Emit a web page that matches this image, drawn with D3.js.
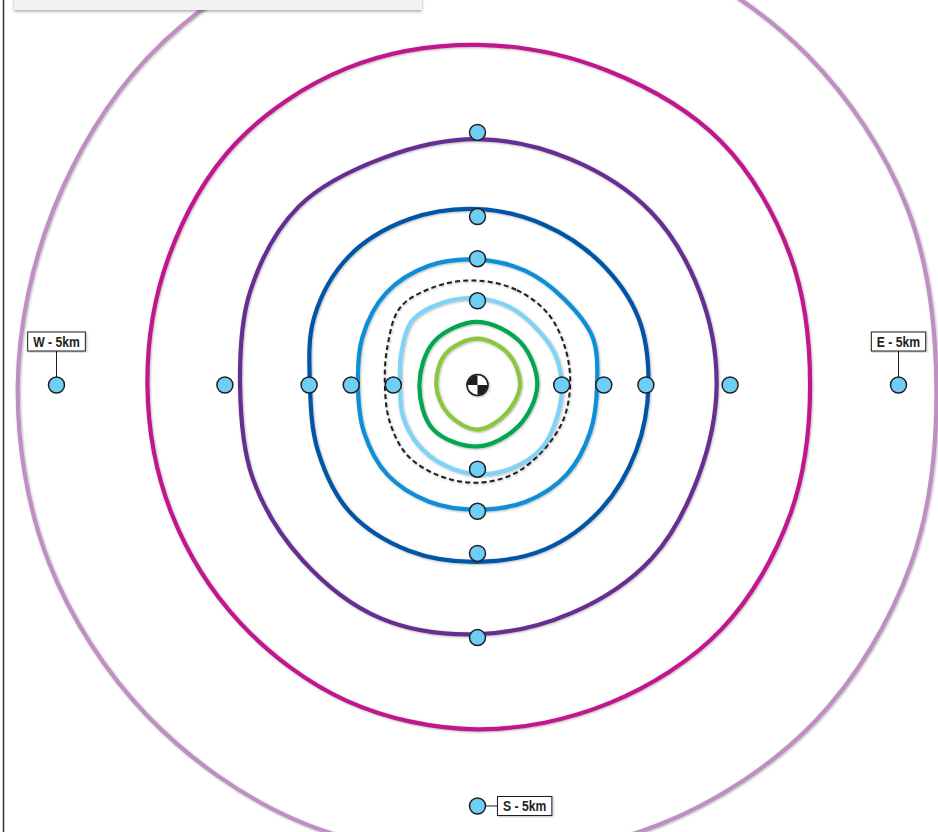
<!DOCTYPE html>
<html>
<head>
<meta charset="utf-8">
<script src="https://cdn.jsdelivr.net/npm/d3@7"></script>
<style>
  html, body { margin: 0; padding: 0; background: #ffffff; overflow: hidden; }
  svg { display: block; }
</style>
</head>
<body>
<svg id="chart" width="938" height="832"></svg>
<script>
// ---------- DATA ----------
// Ring radii in km, sampled clockwise from North at equal angular steps.
const ringNames = ["outer", "magenta", "purple", "darkBlue", "mediumBlue", "dashed", "lightBlue", "green", "lightGreen"];
const ringOuter      = [5.55, 5.55, 5.54, 5.52, 5.45, 5.57, 5.66, 5.65, 5.60, 5.60, 5.55, 5.51, 5.46, 5.45, 5.52, 5.55];
const ringMagenta    = [4.04, 4.04, 4.09, 4.02, 3.95, 4.02, 4.10, 4.09, 4.09, 4.06, 3.99, 3.94, 3.92, 3.97, 4.06, 4.07];
const ringPurple     = [2.92, 2.90, 2.91, 2.86, 2.84, 2.84, 2.92, 2.93, 2.96, 3.00, 2.94, 2.89, 2.82, 2.92, 3.00, 2.92];
const ringDarkBlue   = [2.09, 2.06, 2.06, 2.07, 2.03, 2.04, 2.08, 2.11, 2.10, 2.13, 2.14, 2.05, 1.99, 2.10, 2.16, 2.13];
const ringMediumBlue = [1.49, 1.47, 1.45, 1.48, 1.42, 1.45, 1.50, 1.50, 1.48, 1.50, 1.51, 1.46, 1.42, 1.48, 1.54, 1.53];
const ringDashed     = [1.24, 1.22, 1.19, 1.13, 1.10, 1.10, 1.10, 1.14, 1.16, 1.17, 1.18, 1.13, 1.10, 1.16, 1.30, 1.27];
const ringLightBlue  = [1.03, 1.00, 0.97, 0.99, 1.00, 1.02, 1.07, 1.07, 1.06, 1.03, 1.00, 0.96, 0.92, 0.98, 1.09, 1.06];
const ringGreen      = [0.75, 0.72, 0.71, 0.69, 0.73, 0.745, 0.69, 0.73];
const ringLightGreen = [0.55, 0.52, 0.505, 0.48, 0.53, 0.49, 0.49, 0.53];
const ringColors     = ["#bf8fc4", "#c0198e", "#662d91", "#0054a6", "#0b8ed6", "#231f20", "#80d3f6", "#00a651", "#8cc63f"];

// Marker points (km from centre) per compass direction
const directions      = ["N", "E", "S", "W"];
const markersN        = [1, 1.5, 2, 3];
const markersE        = [1, 1.5, 2, 3, 5];
const markersS        = [1, 1.5, 2, 3, 5];
const markersW        = [1, 1.5, 2, 3, 5];

// Labelled markers
const labelTexts      = ["W - 5km", "E - 5km", "S - 5km"];
const labelDirections = ["W", "E", "S"];
const labelDistances  = [5, 5, 5];

// ---------- LAYOUT ----------
const W = 938, H = 832;
const cx = 477.5, cy = 385;
const svg = d3.select("#chart");

const r = d3.scaleLinear().domain([0, 5]).range([0, 421]);
const dirAngle = d3.scaleOrdinal().domain(directions).range([0, Math.PI / 2, Math.PI, 3 * Math.PI / 2]);

const defs = svg.append("defs");
const sh = defs.append("filter").attr("id", "shadow")
  .attr("x", "-10%").attr("y", "-10%").attr("width", "120%").attr("height", "120%");
sh.append("feDropShadow").attr("dx", 0.8).attr("dy", 0.8).attr("stdDeviation", 0.9)
  .attr("flood-color", "#000").attr("flood-opacity", 0.3);
const sh2 = defs.append("filter").attr("id", "panelShadow")
  .attr("x", "-10%").attr("y", "-50%").attr("width", "120%").attr("height", "250%");
sh2.append("feDropShadow").attr("dx", 0).attr("dy", 1.5).attr("stdDeviation", 1.5)
  .attr("flood-color", "#000").attr("flood-opacity", 0.35);

// Left frame line
svg.append("line").attr("x1", 3.5).attr("x2", 3.5).attr("y1", 0).attr("y2", H)
  .attr("stroke", "#3d3d3d").attr("stroke-width", 1.6);

const g = svg.append("g").attr("transform", `translate(${cx},${cy})`);

// Rings
const rings = [ringOuter, ringMagenta, ringPurple, ringDarkBlue, ringMediumBlue, ringDashed, ringLightBlue, ringGreen, ringLightGreen]
  .map((vals, i) => ({ name: ringNames[i], values: vals, color: ringColors[i] }));

const radial = d3.lineRadial()
  .curve(d3.curveCatmullRomClosed.alpha(0.5));

g.selectAll("path.ring").data(rings).join("path")
  .attr("class", "ring")
  .attr("d", d => radial
      .angle((v, i) => i * 2 * Math.PI / d.values.length)
      .radius(v => r(v))(d.values))
  .attr("fill", "none")
  .attr("stroke", d => d.color)
  .attr("stroke-width", d => d.name === "dashed" ? 2 : 4.2)
  .attr("stroke-dasharray", d => d.name === "dashed" ? "5,3.2" : null)
  .attr("stroke-linejoin", "round")
  .attr("filter", "url(#shadow)");

// Marker points
const markerLists = { N: markersN, E: markersE, S: markersS, W: markersW };
const markers = directions.flatMap(dir => markerLists[dir].map(km => ({ dir, km })));
const pos = (dir, km) => {
  const a = dirAngle(dir);
  return [Math.sin(a) * r(km), -Math.cos(a) * r(km)];
};

// Label callouts
const condense = 0.84;
const labels = labelTexts.map((t, i) => ({ text: t, dir: labelDirections[i], km: labelDistances[i] }));
const labelG = g.selectAll("g.lab").data(labels).join("g").attr("class", "lab");
labelG.each(function (d) {
  const [px, py] = pos(d.dir, d.km);
  const sel = d3.select(this);
  const tg = sel.append("g");
  const txt = tg.append("text")
    .text(d.text)
    .attr("font-family", "'Liberation Sans', Arial, sans-serif")
    .attr("font-weight", "bold")
    .attr("font-size", 14.5)
    .attr("fill", "#231f20")
    .attr("text-anchor", "middle")
    .attr("dominant-baseline", "central");
  const tw = txt.node().getComputedTextLength() * condense;
  const bw = tw + 11, bh = 19;
  let bx, by;
  if (d.dir === "S") {
    bx = px + 20; by = py - bh / 2;
    sel.insert("line", "g").attr("x1", px).attr("y1", py).attr("x2", bx).attr("y2", py)
      .attr("stroke", "#231f20").attr("stroke-width", 1);
  } else {
    bx = px - bw / 2; by = py - 53;
    sel.insert("line", "g").attr("x1", px).attr("y1", by + bh).attr("x2", px).attr("y2", py)
      .attr("stroke", "#231f20").attr("stroke-width", 1);
  }
  sel.insert("rect", "g").attr("x", bx).attr("y", by).attr("width", bw).attr("height", bh)
    .attr("fill", "#ffffff").attr("stroke", "#231f20").attr("stroke-width", 1)
    .attr("filter", "url(#shadow)");
  tg.attr("transform", `translate(${bx + bw / 2},${by + bh / 2 + 0.5}) scale(${condense},1)`);
});

g.selectAll("circle.marker").data(markers).join("circle")
  .attr("class", "marker")
  .attr("cx", d => pos(d.dir, d.km)[0])
  .attr("cy", d => pos(d.dir, d.km)[1])
  .attr("r", 8)
  .attr("fill", "#6dcff6")
  .attr("stroke", "#231f20")
  .attr("stroke-width", 1.5);

// Centre-of-gravity symbol
const cg = g.append("g").attr("filter", "url(#shadow)");
cg.append("circle").attr("r", 10.5).attr("fill", "#ffffff").attr("stroke", "#231f20").attr("stroke-width", 1.6);
const quad = d3.arc().innerRadius(0).outerRadius(10);
const quadrants = [[-Math.PI / 2, 0], [Math.PI / 2, Math.PI]];
cg.selectAll("path.q").data(quadrants).join("path")
  .attr("class", "q")
  .attr("d", d => quad({ startAngle: d[0], endAngle: d[1] }))
  .attr("fill", "#231f20");

// Top panel (partially visible)
svg.append("rect").attr("x", 14).attr("y", -12).attr("width", 408).attr("height", 22)
  .attr("fill", "#f1f2f4").attr("filter", "url(#panelShadow)");
</script>
</body>
</html>
